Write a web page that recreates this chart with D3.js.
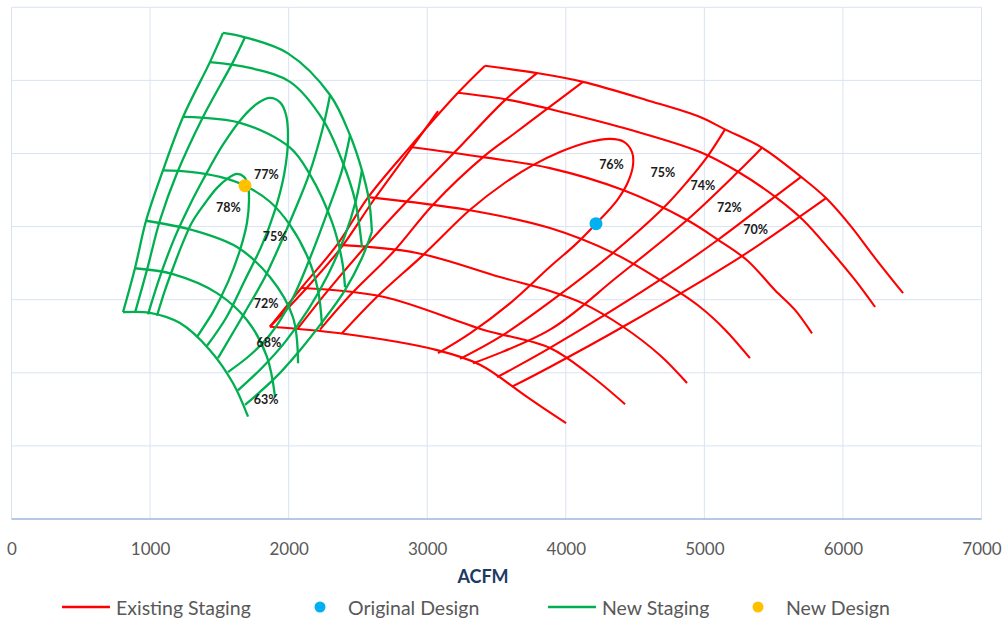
<!DOCTYPE html>
<html>
<head>
<meta charset="utf-8">
<script src="https://cdn.jsdelivr.net/npm/d3@7"></script>
<style>
  body { margin: 0; background: #ffffff; }
  svg { display: block; }
  text { font-family: Lato, "Open Sans", "Liberation Sans", sans-serif; }
</style>
</head>
<body>
<svg id="chart" width="1004" height="621"></svg>
<script>
// ---------- axis ----------
const xTicks = [0, 1000, 2000, 3000, 4000, 5000, 6000, 7000];
const yGrid = [0, 10, 20, 30, 40, 50, 60, 70];

// ---------- Existing Staging (red map), [ACFM, head] ----------
const exSurge = [[1865,26.3],[2096,31.7],[2349,37.5],[2573,44.0],[2876,50.9],[3222,58.3],[3417,62.0]];
const exSurgeInner = [[1865,26.3],[2125,31.5],[2378,37.1],[2609,43.5],[2847,49.7],[3078,55.8]];
const exSpeed1 = [[3417,62.0],[3792,61.0],[4124,59.8],[4586,57.3],[4969,55.0],[5149,53.3],[5416,50.8],[5698,46.8],[5878,43.9],[6051,40.2],[6232,35.7],[6434,30.9]];
const exSpeed2 = [[3222,58.3],[3597,57.3],[4009,55.5],[4471,53.2],[4969,50.2],[5243,47.5],[5524,43.9],[5712,40.9],[5907,36.8],[6087,32.7],[6232,29.0]];
const exSpeed3 = [[2876,50.9],[3403,49.5],[3886,48.0],[4413,45.0],[4875,40.9],[5099,38.2],[5308,35.4],[5510,31.3],[5654,28.6],[5777,25.4]];
const exSpeed4 = [[2587,44.0],[3287,42.3],[3886,39.8],[4341,36.4],[4680,32.7],[4969,29.0],[5149,25.9],[5329,22.0]];
const exSpeed5 = [[2356,37.5],[2926,36.4],[3525,33.1],[3886,31.2],[4124,29.5],[4413,26.3],[4680,22.4],[4875,18.6]];
const exSpeed6 = [[2096,31.6],[2681,30.4],[3403,25.9],[3886,23.4],[4175,19.7],[4428,15.7]];
const exSpeed7 = [[1865,26.3],[2371,25.4],[3071,23.1],[3381,21.1],[3720,16.7],[4002,13.1]];
const exEff76 = [[2385,25.4],[2638,30.4],[2970,36.1],[3309,42.3],[3561,46.0],[3763,48.4],[3958,50.2],[4175,51.6],[4319,52.0],[4420,51.6],[4478,50.2],[4485,48.4],[4449,46.1],[4370,43.6],[4218,40.4],[4067,37.5],[3886,34.5],[3597,29.5],[3309,25.4],[3078,22.7]];
const exEffA = [[3792,61.0],[3561,57.3],[3215,50.5],[2861,43.6],[2551,37.2],[2277,31.1],[2068,26.1]];
const exEffB = [[4124,59.8],[3850,55.9],[3634,52.8],[3403,49.5],[3042,43.0],[2753,36.5],[2443,30.6],[2226,25.9]];
const exEff75 = [[5149,53.3],[5019,49.5],[4875,46.1],[4702,42.5],[4341,36.4],[3886,29.7],[3525,24.9],[3237,21.9]];
const exEff74 = [[5416,50.8],[5243,47.5],[4875,40.9],[4370,33.1],[3886,25.9],[3330,21.3]];
const exEff72 = [[5698,46.8],[5495,43.9],[5099,38.2],[4680,32.7],[3886,23.4],[3504,19.4]];
const exEff70 = [[5878,43.9],[5676,41.2],[5257,35.8],[4413,26.3],[3886,20.8],[3612,18.1]];

// ---------- New Staging (green map) ----------
const nwSurge = [[805,28.3],[891,34.3],[971,40.8],[1093,47.7],[1238,55.0],[1432,62.5],[1526,66.5]];
const nwSpeed1 = [[1526,66.5],[1685,65.9],[1995,63.7],[2299,58.0],[2443,52.5],[2529,47.7],[2580,43.6],[2601,39.3]];
const nwSpeed2 = [[1432,62.5],[1721,61.7],[2010,59.8],[2248,54.6],[2392,48.7],[2479,43.6],[2529,37.2]];
const nwSpeed3 = [[1238,55.0],[1649,54.2],[2010,50.8],[2154,47.1],[2313,40.6],[2385,35.4],[2407,31.7]];
const nwSpeed4 = [[1093,47.7],[1288,47.5],[1505,46.8],[1685,45.6],[1865,43.4],[2010,40.2],[2140,35.7],[2212,31.3],[2241,26.4]];
const nwSpeed5 = [[971,40.8],[1310,39.5],[1627,37.2],[1865,33.1],[2031,27.6],[2068,21.3]];
const nwSpeed6 = [[891,34.3],[1165,33.5],[1483,30.9],[1700,27.2],[1843,22.2],[1902,16.7]];
const nwSpeed7 = [[805,28.3],[1000,28.2],[1216,26.8],[1432,23.1],[1598,18.6],[1707,14.0]];
const nwEffA = [[1685,65.9],[1598,62.5],[1382,55.0],[1194,47.3],[1072,40.9],[978,34.1],[891,28.2]];
const nwEff78 = [[1050,27.8],[1108,31.3],[1165,34.3],[1230,37.5],[1303,40.6],[1396,43.2],[1483,45.3],[1562,46.6],[1627,47.2],[1678,46.8],[1707,45.6],[1714,43.6],[1700,40.6],[1649,36.8],[1562,32.4],[1454,28.3],[1339,24.9]];
const nwEff77 = [[985,28.0],[1072,33.2],[1180,38.6],[1288,43.0],[1382,46.4],[1526,51.2],[1671,55.0],[1779,56.9],[1865,57.6],[1938,57.0],[1981,55.3],[1995,51.8],[1967,47.1],[1902,42.3],[1808,37.5],[1685,32.7],[1548,27.5],[1411,23.7]];
const nwEff75 = [[2299,58.0],[2248,53.6],[2147,47.1],[2046,42.3],[1974,39.1],[1829,33.1],[1685,28.3],[1490,22.0]];
const nwEff72 = [[2443,52.5],[2385,47.7],[2299,43.0],[2169,36.4],[2024,30.0],[1865,25.2],[1721,22.4],[1562,20.1]];
const nwEff68 = [[2529,47.7],[2486,43.6],[2407,38.8],[2284,33.4],[2140,28.6],[1974,24.2],[1808,20.7],[1634,17.6]];
const nwEff63 = [[2601,39.3],[2529,35.7],[2407,31.3],[2241,26.9],[2082,23.1],[1902,19.3],[1685,15.6]];

// ---------- design points ----------
const originalDesign = [4218, 40.4];
const newDesign = [1685, 45.6];

// ---------- efficiency labels: [text, ACFM, head] ----------
const exLabels = [["76%",4330,48.5],["75%",4700,47.4],["74%",4990,45.6],["72%",5180,42.6],["70%",5370,39.6]];
const nwLabels = [["77%",1840,47.1],["78%",1565,42.6],["75%",1902,38.7],["72%",1837,29.5],["68%",1858,24.2],["63%",1837,16.4]];

const legendItems = [
  { label: "Existing Staging", kind: "line", color: "#ff0000" },
  { label: "Original Design",  kind: "dot",  color: "#00b0f0" },
  { label: "New Staging",      kind: "line", color: "#00b050" },
  { label: "New Design",       kind: "dot",  color: "#ffc000" }
];

const svg = d3.select("#chart");
const x = d3.scaleLinear().domain([0, 7000]).range([11.5, 981.5]);
const y = d3.scaleLinear().domain([0, 70]).range([519, 7.3]);

// gridlines
svg.append("g").selectAll("line").data(xTicks).join("line")
  .attr("x1", d => x(d)).attr("x2", d => x(d))
  .attr("y1", y(0)).attr("y2", y(70))
  .attr("stroke", "#dae3f3").attr("stroke-width", 1);
svg.append("g").selectAll("line").data(yGrid.filter(d => d > 0)).join("line")
  .attr("x1", x(0)).attr("x2", x(7000))
  .attr("y1", d => y(d)).attr("y2", d => y(d))
  .attr("stroke", "#dae3f3").attr("stroke-width", 1);
// x axis line
svg.append("line")
  .attr("x1", x(0)).attr("x2", x(7000)).attr("y1", y(0)).attr("y2", y(0))
  .attr("stroke", "#9fb6dc").attr("stroke-width", 1.3);

// tick labels
const xAxis = svg.append("g").attr("transform", `translate(0,${y(0)})`)
  .call(d3.axisBottom(x).tickValues(xTicks).tickSize(0).tickPadding(24).tickFormat(d3.format("d")));
xAxis.select(".domain").remove();
xAxis.selectAll("text").attr("fill", "#595959").style("font-size", "17px")
  .style("font-family", "Lato, 'Open Sans', sans-serif");

// axis title
svg.append("text").attr("x", 483).attr("y", 583).attr("text-anchor", "middle")
  .attr("fill", "#203864").style("font-size", "18px").style("font-weight", "bold").text("ACFM");

const line = d3.line().x(d => x(d[0])).y(d => y(d[1])).curve(d3.curveCatmullRom.alpha(0.5));

const exCurves = [exSurge, exSurgeInner, exSpeed1, exSpeed2, exSpeed3, exSpeed4, exSpeed5, exSpeed6, exSpeed7,
  exEff76, exEffA, exEffB, exEff75, exEff74, exEff72, exEff70];
const nwCurves = [nwSurge, nwSpeed1, nwSpeed2, nwSpeed3, nwSpeed4, nwSpeed5, nwSpeed6, nwSpeed7,
  nwEffA, nwEff78, nwEff77, nwEff75, nwEff72, nwEff68, nwEff63];

svg.append("g").selectAll("path").data(exCurves).join("path")
  .attr("d", line).attr("fill", "none").attr("stroke", "#ff0000")
  .attr("stroke-width", 2.1).attr("stroke-linejoin", "round");
svg.append("g").selectAll("path").data(nwCurves).join("path")
  .attr("d", line).attr("fill", "none").attr("stroke", "#00b050")
  .attr("stroke-width", 2.3).attr("stroke-linejoin", "round");

// design points
svg.append("circle").attr("cx", x(originalDesign[0])).attr("cy", y(originalDesign[1])).attr("r", 6.5).attr("fill", "#00b0f0");
svg.append("circle").attr("cx", x(newDesign[0])).attr("cy", y(newDesign[1])).attr("r", 6.5).attr("fill", "#ffc000");

// efficiency labels
svg.append("g").selectAll("text").data(exLabels.concat(nwLabels)).join("text")
  .attr("x", d => x(d[1])).attr("y", d => y(d[2]))
  .attr("text-anchor", "middle").attr("dominant-baseline", "central")
  .attr("fill", "#1a1a1a").style("font-size", "12.5px").style("font-weight", "bold")
  .text(d => d[0]);

// legend
const legendX = [62, 320, 548, 758];
const lg = svg.append("g");
legendItems.forEach((it, i) => {
  const x0 = legendX[i];
  let tx;
  if (it.kind === "line") {
    lg.append("line").attr("x1", x0).attr("x2", x0 + 48).attr("y1", 607).attr("y2", 607)
      .attr("stroke", it.color).attr("stroke-width", 2.5);
    tx = x0 + 54;
  } else {
    lg.append("circle").attr("cx", x0).attr("cy", 607).attr("r", 5.5).attr("fill", it.color);
    tx = x0 + 28;
  }
  lg.append("text").attr("x", tx).attr("y", 607).attr("dominant-baseline", "central")
    .attr("fill", "#595959").style("font-size", "19.5px").text(it.label);
});
</script>
</body>
</html>
